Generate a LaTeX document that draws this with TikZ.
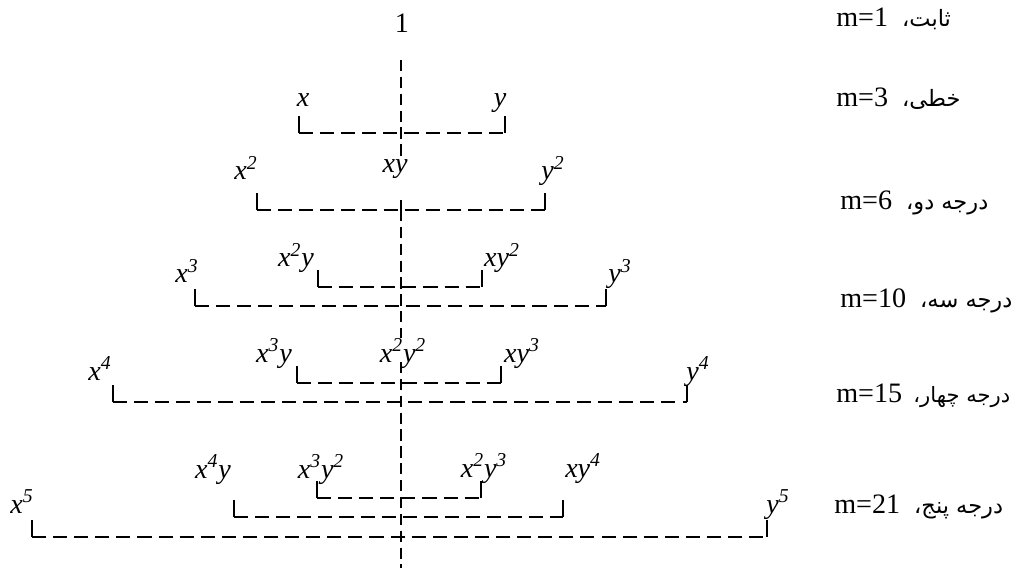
\documentclass[tikz,border=0pt]{standalone}
\usepackage{fontspec}
\setmainfont{Liberation Serif}
\newfontfamily\arabicfont[Script=Arabic]{DejaVu Sans}
\TeXXeTstate=1

\begin{document}
\begin{tikzpicture}[x=0.025cm, y=-0.025cm,
  term/.style={anchor=base, inner sep=0pt, font=\fontsize{20}{24}\selectfont\itshape},
  degree/.style={anchor=base west, inner sep=0pt, font=\fontsize{20}{24}\selectfont},
  tick/.style={line width=1.3pt},
  rung/.style={line width=1.3pt, dash pattern=on 10pt off 5pt},
  axis/.style={line width=1.3pt, dash pattern=on 8pt off 4pt}]

\useasboundingbox (0,0) rectangle (1027,571);

% terms of each degree
\node[term, font=\fontsize{20}{24}\selectfont] (one) at (402,33) {1};
\node[term] (x1) at (303,107) {x};
\node[term] (y1) at (500,107) {y};
\node[term] (xy) at (395,173) {xy};
\node[term] (x2) at (246,180) {x\textsuperscript{2}};
\node[term] (y2) at (553,180) {y\textsuperscript{2}};
\node[term] (x2y) at (296,267) {x\textsuperscript{2}y};
\node[term] (xy2) at (502,267) {xy\textsuperscript{2}};
\node[term] (x3) at (187,283) {x\textsuperscript{3}};
\node[term] (y3) at (620,283) {y\textsuperscript{3}};
\node[term] (x3y) at (274,362) {x\textsuperscript{3}y};
\node[term] (x2y2) at (403,362) {x\textsuperscript{2}y\textsuperscript{2}};
\node[term] (xy3) at (522,362) {xy\textsuperscript{3}};
\node[term] (x4) at (100,380) {x\textsuperscript{4}};
\node[term] (y4) at (698,380) {y\textsuperscript{4}};
\node[term] (x4y) at (213,478) {x\textsuperscript{4}y};
\node[term] (x3y2) at (321,478) {x\textsuperscript{3}y\textsuperscript{2}};
\node[term] (x2y3) at (484,477) {x\textsuperscript{2}y\textsuperscript{3}};
\node[term] (xy4) at (583,477) {xy\textsuperscript{4}};
\node[term] (x5) at (22,513) {x\textsuperscript{5}};
\node[term] (y5) at (778,513) {y\textsuperscript{5}};

% counts on the right
\node[degree] (m1) at (836,27) {m=1\hspace{10pt}{\arabicfont\fontsize{16}{18}\selectfont\beginR ثابت،\endR}};
\node[degree] (m3) at (836,107) {m=3\hspace{10pt}{\arabicfont\fontsize{16}{18}\selectfont\beginR خطی،\endR}};
\node[degree] (m6) at (840,210) {m=6\hspace{10pt}{\arabicfont\fontsize{16}{18}\selectfont\beginR درجه دو،\endR}};
\node[degree] (m10) at (840,308) {m=10\hspace{10pt}{\arabicfont\fontsize{16}{18}\selectfont\beginR درجه سه،\endR}};
\node[degree] (m15) at (836,402) {m=15\hspace{8pt}{\arabicfont\fontsize{15}{18}\selectfont\beginR درجه چهار،\endR}};
\node[degree] (m21) at (834,513) {m=21\hspace{10pt}{\arabicfont\fontsize{16}{18}\selectfont\beginR درجه پنج،\endR}};

% bracket corners
\coordinate (a1) at (299,133);  \coordinate (b1) at (505,133);
\coordinate (a2) at (257,210);  \coordinate (b2) at (545,210);
\coordinate (a3) at (318,287);  \coordinate (b3) at (482,287);
\coordinate (c3) at (195,306);  \coordinate (d3) at (606,306);
\coordinate (a4) at (297,383);  \coordinate (b4) at (501,383);
\coordinate (c4) at (113,402);  \coordinate (d4) at (687,402);
\coordinate (a5) at (317,498);  \coordinate (b5) at (481,498);
\coordinate (c5) at (234,517);  \coordinate (d5) at (563,517);
\coordinate (e5) at (32,537);   \coordinate (f5) at (767,537);

% middle axis
\coordinate (top) at (401,60);
\coordinate (bottom) at (401,568);
\draw[axis] (top) -- (top |- xy.north);
\draw[tick] (top |- a2) -- ++(0,-10);
\draw[axis] (top |- a2) -- (top |- x2y2.north);
\draw[axis] (top |- x2y2.base) -- (bottom);

% brackets
\foreach \l/\r in {a1/b1, a2/b2, a3/b3, c3/d3, a4/b4, c4/d4, a5/b5, c5/d5, e5/f5} {
  \draw[rung] (\l) -- (\r);
  \draw[tick] (\l) -- ++(0,-17);
  \draw[tick] (\r) -- ++(0,-17);
}
\end{tikzpicture}
\end{document}
